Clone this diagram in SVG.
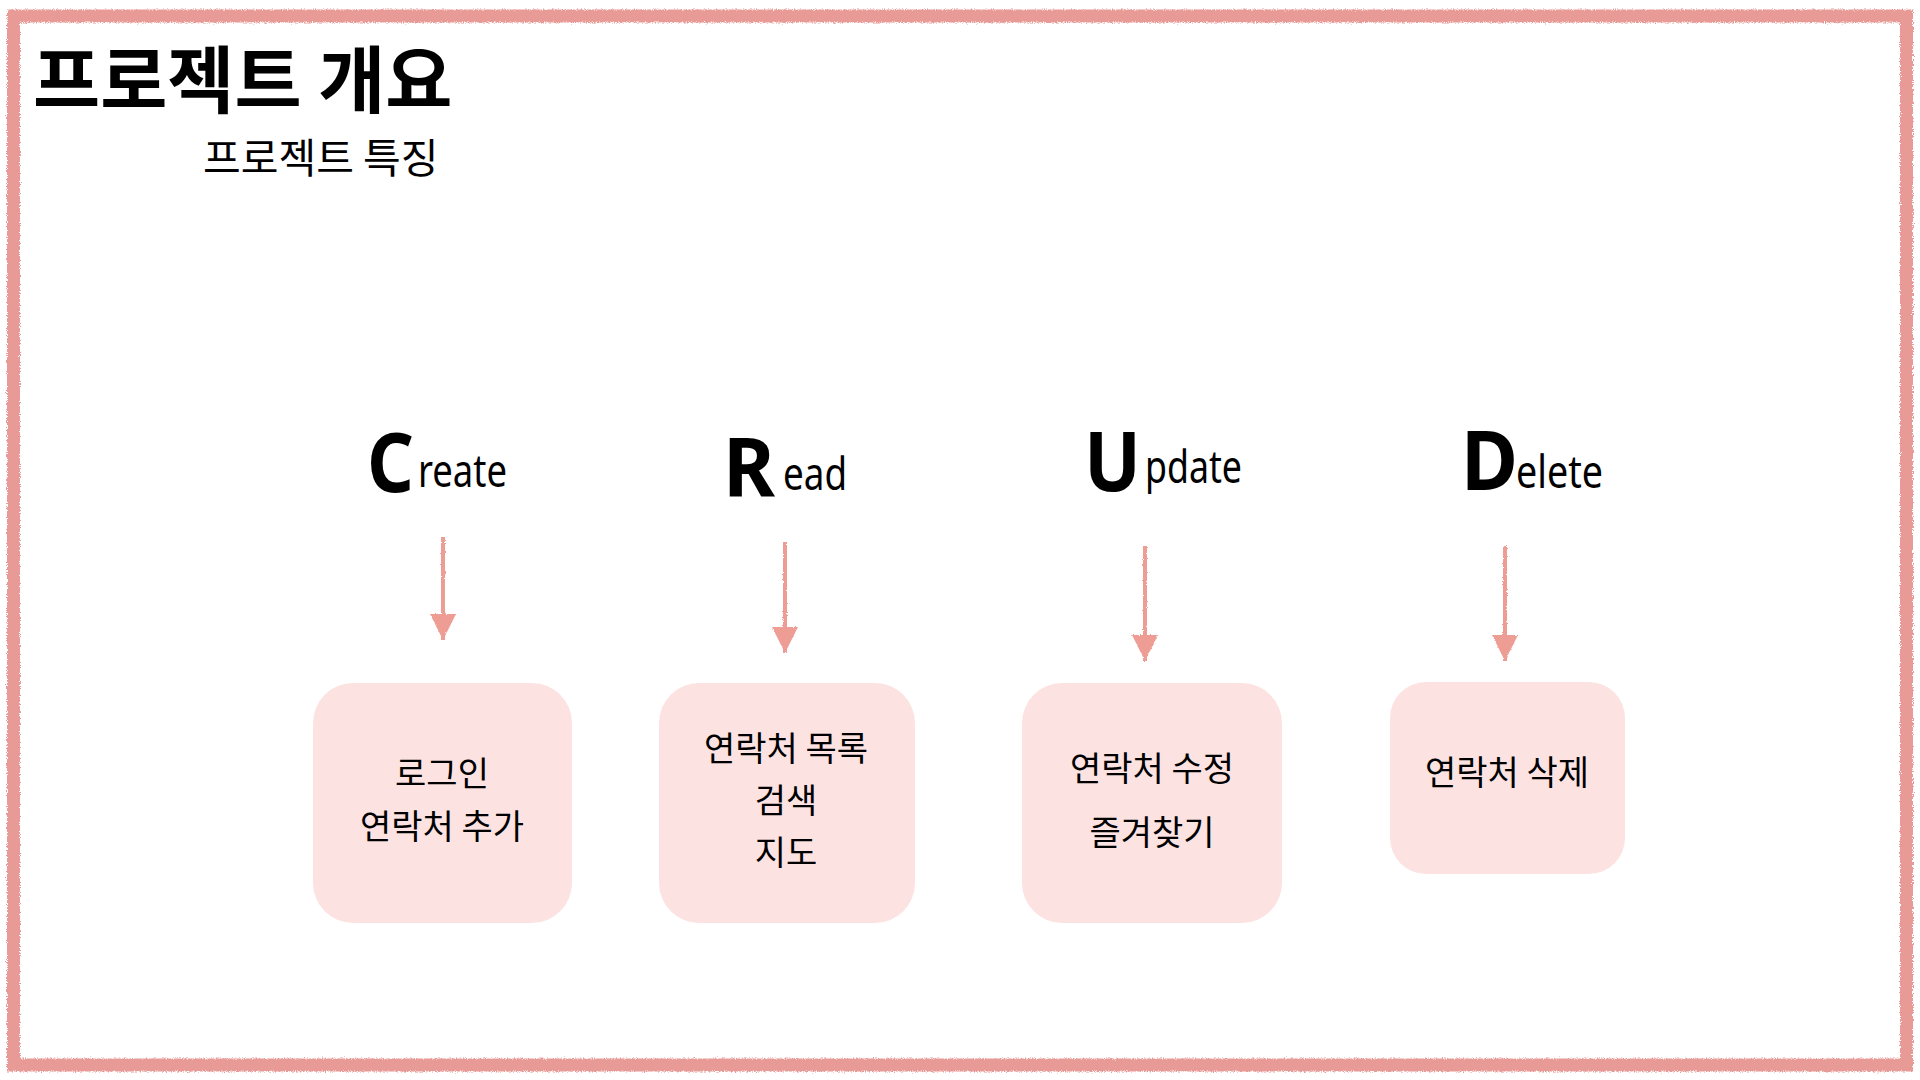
<svg xmlns="http://www.w3.org/2000/svg" width="1920" height="1080" viewBox="0 0 1920 1080">
<style>
.title{font-family:"Noto Sans CJK KR","Noto Sans",sans-serif;font-weight:700;font-size:73px;fill:#000}
.sub{font-family:"Noto Sans CJK KR","Noto Sans",sans-serif;font-size:41px;fill:#000}
.big{font-family:"Noto Sans","Open Sans",sans-serif;font-weight:700;font-size:82px;fill:#000}
.small{font-family:"Noto Sans","Open Sans",sans-serif;font-size:46px;fill:#000}
.box{fill:#fce3e2}
.lbl{font-family:"Noto Sans CJK KR","Noto Sans",sans-serif;font-size:34px;fill:#000;text-anchor:middle}
.arr{stroke:#ee9d95;stroke-width:4;fill:none}
</style>
<defs>
<filter id="rough" x="-2%" y="-2%" width="104%" height="104%">
<feTurbulence type="fractalNoise" baseFrequency="0.9" numOctaves="2" seed="3" result="n"/>
<feDisplacementMap in="SourceGraphic" in2="n" scale="5" xChannelSelector="R" yChannelSelector="G"/>
</filter>
<filter id="rough2" x="-50%" y="-5%" width="200%" height="110%">
<feTurbulence type="fractalNoise" baseFrequency="0.9" numOctaves="2" seed="5" result="n"/>
<feDisplacementMap in="SourceGraphic" in2="n" scale="2.5" xChannelSelector="R" yChannelSelector="G"/>
</filter>
<marker id="ah" viewBox="0 0 10 10" refX="10" refY="5" markerWidth="6.5" markerHeight="6.5" markerUnits="strokeWidth" orient="auto">
<path d="M0,0 L10,5 L0,10 Z" fill="#ee9d95"/>
</marker>
</defs>
<rect x="13.5" y="16" width="1893" height="1049" fill="none" stroke="#e89a96" stroke-width="13" filter="url(#rough)"/>
<text class="title" x="33" y="107">프로젝트 개요</text>
<text class="sub" x="203" y="173">프로젝트 특징</text>
<g id="label-create">
<text class="big" x="367" y="492" textLength="47" lengthAdjust="spacingAndGlyphs">C</text>
<text class="small" x="418" y="487" textLength="89" lengthAdjust="spacingAndGlyphs">reate</text>
</g>
<g id="label-read">
<text class="big" x="723" y="497" textLength="52" lengthAdjust="spacingAndGlyphs">R</text>
<text class="small" x="783" y="490" textLength="64" lengthAdjust="spacingAndGlyphs">ead</text>
</g>
<g id="label-update">
<text class="big" x="1084" y="491" textLength="57" lengthAdjust="spacingAndGlyphs">U</text>
<text class="small" x="1145" y="483" textLength="97" lengthAdjust="spacingAndGlyphs">pdate</text>
</g>
<g id="label-delete">
<text class="big" x="1461" y="490" textLength="57" lengthAdjust="spacingAndGlyphs">D</text>
<text class="small" x="1516" y="488" textLength="87" lengthAdjust="spacingAndGlyphs">elete</text>
</g>
<g id="connectors" filter="url(#rough2)">
<line class="arr" x1="443" y1="537" x2="443" y2="640" marker-end="url(#ah)"/>
<line class="arr" x1="785" y1="542" x2="785" y2="653" marker-end="url(#ah)"/>
<line class="arr" x1="1145" y1="546" x2="1145" y2="661" marker-end="url(#ah)"/>
<line class="arr" x1="1505" y1="546" x2="1505" y2="661" marker-end="url(#ah)"/>
</g>
<g id="node-create"><rect class="box" x="313" y="683" width="259" height="240" rx="40"/><text class="lbl" x="442" y="786">로그인</text><text class="lbl" x="442" y="839">연락처 추가</text></g>
<g id="node-read"><rect class="box" x="659" y="683" width="256" height="240" rx="40"/><text class="lbl" x="786" y="761">연락처 목록</text><text class="lbl" x="786" y="813">검색</text><text class="lbl" x="786" y="865">지도</text></g>
<g id="node-update"><rect class="box" x="1022" y="683" width="260" height="240" rx="40"/><text class="lbl" x="1152" y="781">연락처 수정</text><text class="lbl" x="1152" y="845">즐겨찾기</text></g>
<g id="node-delete"><rect class="box" x="1390" y="682" width="235" height="192" rx="36"/><text class="lbl" x="1507" y="785">연락처 삭제</text></g>
</svg>
